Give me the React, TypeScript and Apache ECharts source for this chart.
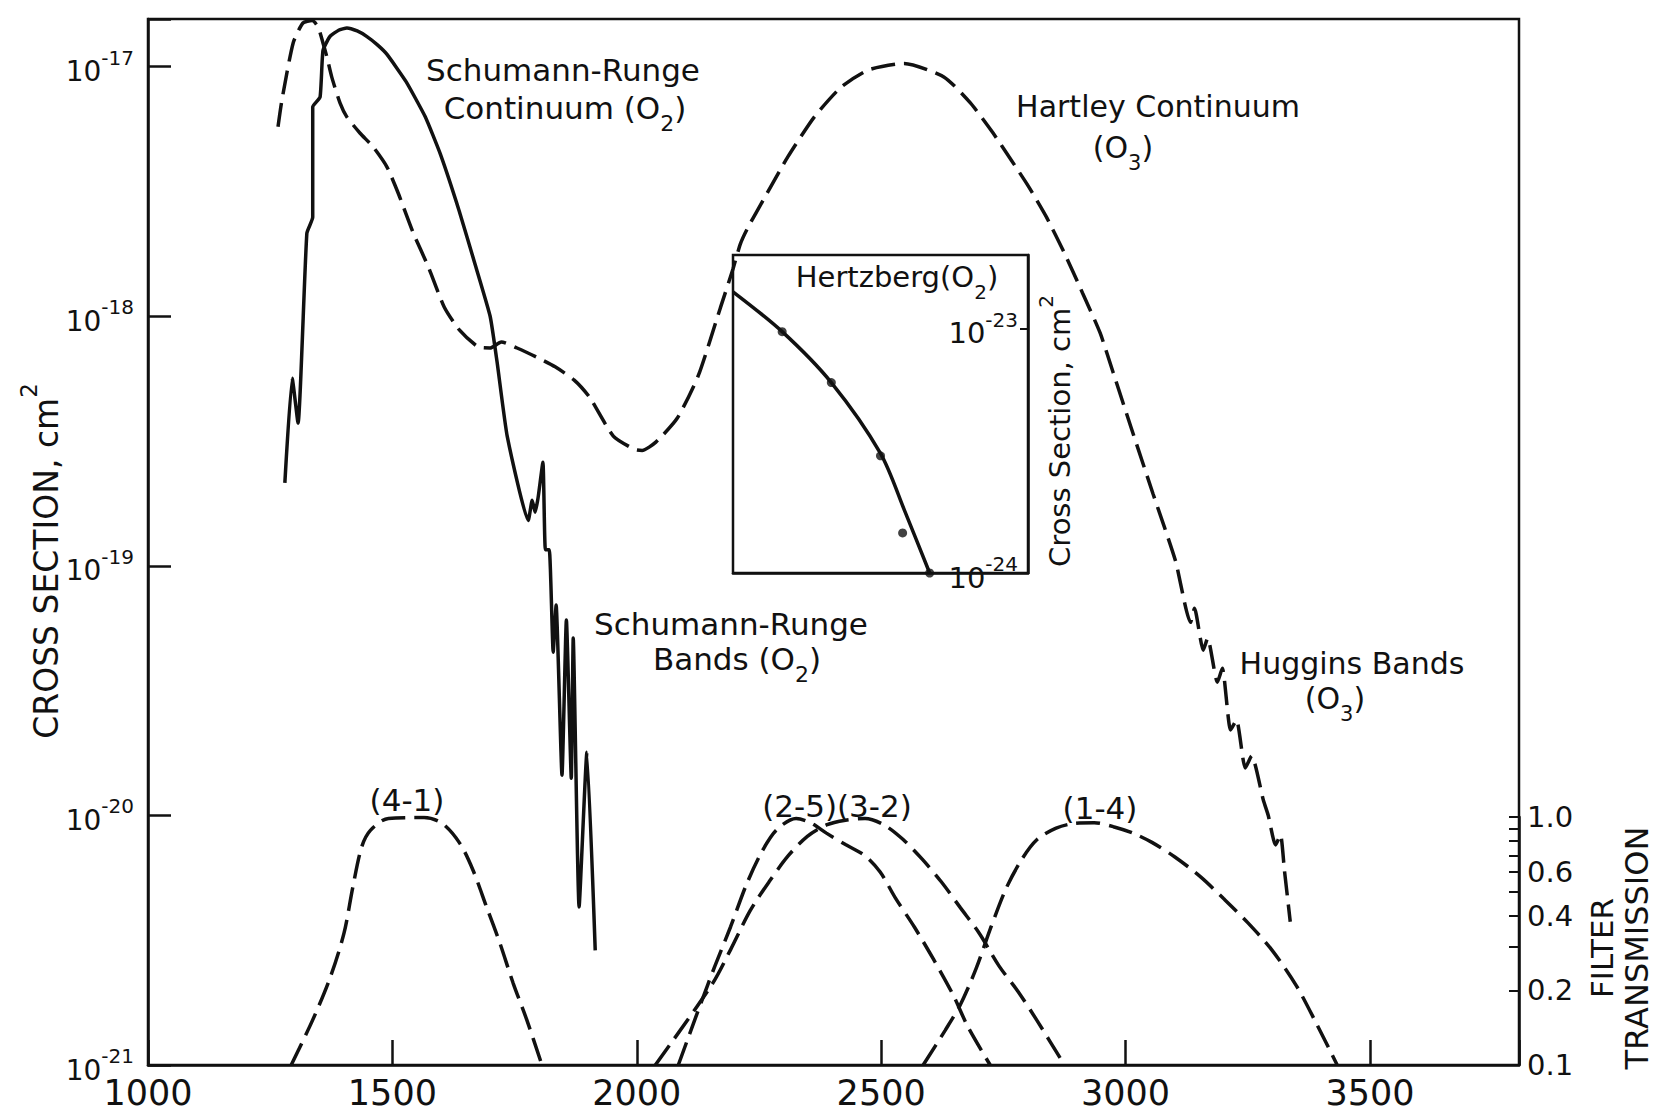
import React, { useEffect, useRef } from "react";
import * as echarts from "echarts";

const FONT = "DejaVu Sans";
const INK = "#111";

// ---- Axis ticks / labels ----
const xTickLabels = [1000, 1500, 2000, 2500, 3000, 3500];
const transmissionLabelValues = [0.1, 0.2, 0.4, 0.6, 1.0];
const transmissionTickValues = [0.1, 0.2, 0.3, 0.4, 0.5, 0.6, 0.7, 0.8, 0.9, 1.0];

// ---- O3 absorption cross-section (dashed): wavelength (Å), cross-section (cm²) ----
const o3Wavelength = [
  1266, 1274, 1297, 1317, 1336, 1348, 1358, 1366, 1376, 1393, 1407, 1434, 1461, 1489, 1512,
  1543, 1574, 1606, 1637, 1676, 1700, 1723, 1755, 1794, 1833, 1872, 1903, 1952, 1995, 2011,
  2039, 2083, 2126, 2171, 2197, 2212, 2226, 2263, 2309, 2363, 2418, 2474, 2547, 2629, 2683,
  2729, 2766, 2802, 2838, 2875, 2912, 2948, 2975, 3012, 3056, 3102, 3133, 3141, 3159, 3168,
  3188, 3198, 3215, 3227, 3245, 3258, 3282, 3292, 3307, 3317, 3325, 3337,
];
const o3CrossSection = [
  5.74e-18, 7.35e-18, 1.245e-17, 1.496e-17, 1.53e-17, 1.442e-17, 1.245e-17, 1.094e-17, 9.08e-18, 7.14e-18,
  6.28e-18, 5.41e-18, 4.76e-18, 3.96e-18, 3.11e-18, 2.15e-18, 1.57e-18, 1.09e-18, 8.81e-19, 7.53e-19,
  7.46e-19, 7.89e-19, 7.46e-19, 6.87e-19, 6.27e-19, 5.55e-19, 4.75e-19, 3.31e-19, 2.93e-19, 2.9e-19,
  3.13e-19, 3.91e-19, 5.79e-19, 1.08e-18, 1.55e-18, 1.95e-18, 2.24e-18, 3.02e-18, 4.35e-18, 6.28e-18,
  8.28e-18, 9.7e-18, 1.03e-17, 9.08e-18, 7.14e-18, 5.42e-18, 4.23e-18, 3.3e-18, 2.5e-18, 1.79e-18,
  1.24e-18, 8.57e-19, 5.92e-19, 3.55e-19, 1.95e-19, 1.05e-19, 5.94e-20, 6.76e-20, 4.59e-20, 5.13e-20,
  3.42e-20, 3.89e-20, 2.2e-20, 2.41e-20, 1.55e-20, 1.73e-20, 1.15e-20, 1.0e-20, 7.62e-21, 8.36e-21,
  6.05e-21, 3.75e-21,
];

// ---- O2 Schumann-Runge continuum and bands (solid) ----
const o2Wavelength = [
  1280, 1295, 1307, 1325, 1337, 1337, 1352, 1358, 1372, 1390, 1407, 1428, 1448, 1470, 1489,
  1528, 1567, 1598, 1637, 1669, 1700, 1714, 1735, 1778, 1786, 1792, 1798, 1808, 1813, 1821,
  1829, 1835, 1847, 1856, 1866, 1870, 1882, 1898, 1915,
];
const o2CrossSection = [
  2.15e-19, 5.65e-19, 3.73e-19, 2.15e-18, 2.49e-18, 6.89e-18, 7.55e-18, 1.16e-17, 1.32e-17, 1.4e-17,
  1.43e-17, 1.39e-17, 1.32e-17, 1.22e-17, 1.12e-17, 8.71e-18, 6.31e-18, 4.47e-18, 2.63e-18, 1.62e-18,
  1.0e-18, 6.6e-19, 3.3e-19, 1.52e-19, 1.83e-19, 1.64e-19, 1.87e-19, 2.6e-19, 1.16e-19, 1.16e-19,
  4.51e-20, 6.97e-20, 1.45e-20, 6.07e-20, 1.41e-20, 5.14e-20, 4.3e-21, 1.79e-20, 2.88e-21,
];

// ---- Filter transmissions (dashed, right axis) ----
const filter41Wavelength = [1293, 1337, 1373, 1401, 1419, 1437, 1455, 1492, 1565, 1602, 1638, 1665, 1693, 1720, 1747, 1775, 1806];
const filter41Transmission = [0.1, 0.152, 0.226, 0.34, 0.521, 0.755, 0.883, 0.987, 0.995, 0.942, 0.783, 0.61, 0.432, 0.31, 0.214, 0.152, 0.1];

const filter25Wavelength = [2085, 2130, 2160, 2192, 2224, 2255, 2286, 2326, 2357, 2388, 2427, 2467, 2498, 2529, 2568, 2607, 2647, 2678, 2723];
const filter25Transmission = [0.1, 0.175, 0.251, 0.361, 0.532, 0.719, 0.887, 0.986, 0.944, 0.861, 0.774, 0.698, 0.6, 0.472, 0.36, 0.267, 0.192, 0.142, 0.1];

const filter32Wavelength = [2038, 2153, 2192, 2232, 2271, 2310, 2349, 2388, 2427, 2467, 2506, 2545, 2584, 2623, 2662, 2701, 2741, 2780, 2819, 2875];
const filter32Transmission = [0.1, 0.21, 0.292, 0.419, 0.549, 0.698, 0.836, 0.929, 0.971, 0.986, 0.929, 0.811, 0.676, 0.548, 0.431, 0.339, 0.251, 0.198, 0.151, 0.1];

const filter14Wavelength = [2586, 2631, 2662, 2694, 2725, 2756, 2788, 2819, 2858, 2897, 2936, 2975, 3015, 3054, 3101, 3153, 3200, 3250, 3300, 3350, 3392, 3433];
const filter14Transmission = [0.1, 0.138, 0.175, 0.244, 0.361, 0.517, 0.676, 0.811, 0.902, 0.943, 0.948, 0.914, 0.861, 0.79, 0.69, 0.575, 0.47, 0.375, 0.29, 0.208, 0.145, 0.1];

// ---- Inset: Hertzberg continuum (O2) ----
const hertzbergWavelength = [1900, 2000, 2100, 2200, 2250, 2300];
const hertzbergCrossSection = [1.42e-23, 9.75e-24, 6.03e-24, 3.09e-24, 1.78e-24, 1.0e-24];
const hertzbergPointWavelength = [2000, 2100, 2200, 2245, 2300];
const hertzbergPointCrossSection = [9.75e-24, 6.03e-24, 3.02e-24, 1.46e-24, 1.0e-24];

const logPairs = (xs: number[], ys: number[]) => xs.map((x, i) => [x, Math.log10(ys[i])]);
const isInt = (v: number) => Math.abs(v - Math.round(v)) < 1e-6;

const powRich = {
  b: { fontFamily: FONT, fontSize: 28, color: INK, lineHeight: 38, verticalAlign: "bottom" },
  s: { fontFamily: FONT, fontSize: 20, color: INK, lineHeight: 20, verticalAlign: "top" },
};
const insetPowRich = {
  b: { fontFamily: FONT, fontSize: 29, color: INK, lineHeight: 38, verticalAlign: "bottom" },
  s: { fontFamily: FONT, fontSize: 20, color: INK, lineHeight: 20, verticalAlign: "top" },
};

function textEl(text: string, x: number, y: number, size: number, rotation = 0) {
  return {
    type: "text",
    x,
    y,
    rotation,
    z: 10,
    style: {
      text,
      fill: INK,
      fontFamily: FONT,
      fontSize: size,
      align: "center",
      verticalAlign: "middle",
      rich: {
        b: { fontFamily: FONT, fontSize: size, lineHeight: Math.round(size * 1.35), verticalAlign: "top", fill: INK },
        d: { fontFamily: FONT, fontSize: Math.round(size * 0.7), lineHeight: Math.round(size * 0.7), verticalAlign: "bottom", fill: INK },
        B: { fontFamily: FONT, fontSize: size, lineHeight: Math.round(size * 1.35), verticalAlign: "bottom", fill: INK },
        u: { fontFamily: FONT, fontSize: Math.round(size * 0.7), lineHeight: Math.round(size * 0.7), verticalAlign: "top", fill: INK },
      },
    },
  };
}

export default function App() {
  const ref = useRef<HTMLDivElement>(null);

  useEffect(() => {
    if (!ref.current) return;
    const chart = echarts.init(ref.current, null, { renderer: "svg" });

    const axisLine = { show: true, lineStyle: { color: INK, width: 2.5 } };
    const dashed = (data: number[][]) => ({
      type: "line",
      data,
      showSymbol: false,
      smooth: 0.3,
      lineStyle: { color: INK, width: 3.5, type: [24, 9] },
    });

    const option: any = {
      animation: false,
      backgroundColor: "#fff",
      grid: [
        { left: 148, top: 19, width: 1371, height: 1046, show: true, borderColor: INK, borderWidth: 2.5, backgroundColor: "transparent" },
        { left: 148, top: 817, width: 1371, height: 248, show: false },
        { left: 733, top: 255, width: 295, height: 318, show: true, borderColor: INK, borderWidth: 2.5, backgroundColor: "transparent" },
      ],
      xAxis: [
        {
          gridIndex: 0,
          type: "value",
          min: 1000,
          max: 3805,
          interval: 500,
          axisLine,
          axisTick: { show: true, inside: true, length: 25, lineStyle: { color: INK, width: 2.5 } },
          axisLabel: {
            margin: 10,
            fontFamily: FONT,
            fontSize: 35,
            color: INK,
            formatter: (v: number) => (xTickLabels.includes(v) ? String(v) : ""),
          },
          splitLine: { show: false },
        },
        { gridIndex: 1, type: "value", min: 1000, max: 3805, show: false },
        {
          gridIndex: 2,
          type: "value",
          min: 1900,
          max: 2500,
          axisLine,
          axisTick: { show: false },
          axisLabel: { show: false },
          splitLine: { show: false },
        },
      ],
      yAxis: [
        {
          gridIndex: 0,
          type: "value",
          min: -21,
          max: -16.809,
          interval: 1,
          axisLine,
          axisTick: { show: true, inside: true, length: 23, lineStyle: { color: INK, width: 2.5 } },
          axisLabel: {
            margin: 14,
            formatter: (v: number) => (isInt(v) ? `{b|10}{s|${Math.round(v)}}` : ""),
            rich: powRich,
          },
          splitLine: { show: false },
        },
        {
          gridIndex: 1,
          type: "value",
          position: "right",
          min: -1,
          max: 0,
          axisLine,
          axisTick: {
            show: true,
            inside: true,
            length: 10,
            lineStyle: { color: INK, width: 2 },
            customValues: transmissionTickValues.map((t) => Math.log10(t)),
          },
          axisLabel: {
            margin: 8,
            fontFamily: FONT,
            fontSize: 29,
            color: INK,
            customValues: transmissionLabelValues.map((t) => Math.log10(t)),
            formatter: (v: number) => Math.pow(10, v).toFixed(1),
          },
          splitLine: { show: false },
        },
        {
          gridIndex: 2,
          type: "value",
          position: "right",
          min: -24,
          max: -22.697,
          interval: 1,
          axisLine,
          axisTick: { show: true, inside: true, length: 8, lineStyle: { color: INK, width: 2 } },
          axisLabel: {
            inside: true,
            margin: 10,
            formatter: (v: number) => (isInt(v) ? `{b|10}{s|${Math.round(v)}}` : ""),
            rich: insetPowRich,
          },
          splitLine: { show: false },
        },
      ],
      series: [
        { name: "O3", xAxisIndex: 0, yAxisIndex: 0, ...dashed(logPairs(o3Wavelength, o3CrossSection)), smooth: 0.2 },
        {
          name: "O2",
          type: "line",
          xAxisIndex: 0,
          yAxisIndex: 0,
          data: logPairs(o2Wavelength, o2CrossSection),
          showSymbol: false,
          smooth: 0.15,
          lineStyle: { color: INK, width: 3.5 },
        },
        { name: "(4-1)", xAxisIndex: 1, yAxisIndex: 1, ...dashed(logPairs(filter41Wavelength, filter41Transmission)) },
        { name: "(2-5)", xAxisIndex: 1, yAxisIndex: 1, ...dashed(logPairs(filter25Wavelength, filter25Transmission)) },
        { name: "(3-2)", xAxisIndex: 1, yAxisIndex: 1, ...dashed(logPairs(filter32Wavelength, filter32Transmission)) },
        { name: "(1-4)", xAxisIndex: 1, yAxisIndex: 1, ...dashed(logPairs(filter14Wavelength, filter14Transmission)) },
        {
          name: "Hertzberg",
          type: "line",
          xAxisIndex: 2,
          yAxisIndex: 2,
          data: logPairs(hertzbergWavelength, hertzbergCrossSection),
          showSymbol: false,
          smooth: 0.3,
          lineStyle: { color: INK, width: 3.5 },
        },
        {
          name: "Hertzberg points",
          type: "scatter",
          xAxisIndex: 2,
          yAxisIndex: 2,
          data: logPairs(hertzbergPointWavelength, hertzbergPointCrossSection),
          symbolSize: 9,
          itemStyle: { color: INK },
        },
      ],
      graphic: [
        textEl("Schumann-Runge", 563, 70, 31),
        textEl("{b|Continuum (O}{d|2}{b|)}", 565, 113, 31),
        textEl("Hartley Continuum", 1158, 106, 30),
        textEl("{b|(O}{d|3}{b|)}", 1123, 153, 30),
        textEl("Schumann-Runge", 731, 624, 31),
        textEl("{b|Bands (O}{d|2}{b|)}", 737, 664, 31),
        textEl("Huggins Bands", 1352, 663, 30),
        textEl("{b|(O}{d|3}{b|)}", 1335, 704, 30),
        textEl("(4-1)", 407, 800, 31),
        textEl("(2-5)(3-2)", 837, 806, 31),
        textEl("(1-4)", 1100, 808, 31),
        textEl("{b|Hertzberg(O}{d|2}{b|)}", 897, 282, 29),
        textEl("{B|Cross Section, cm}{u|2}", 1055, 431, 29, Math.PI / 2),
        textEl("{B|CROSS SECTION, cm}{u|2}", 40, 561, 33, Math.PI / 2),
        textEl("FILTER", 1602, 948, 31, Math.PI / 2),
        textEl("TRANSMISSION", 1637, 948, 32, Math.PI / 2),
      ],
    };

    chart.setOption(option);
    return () => chart.dispose();
  }, []);

  return (
    <div
      ref={ref}
      style={{ position: "fixed", left: 0, top: 0, width: 1658, height: 1120, background: "#fff" }}
    />
  );
}
